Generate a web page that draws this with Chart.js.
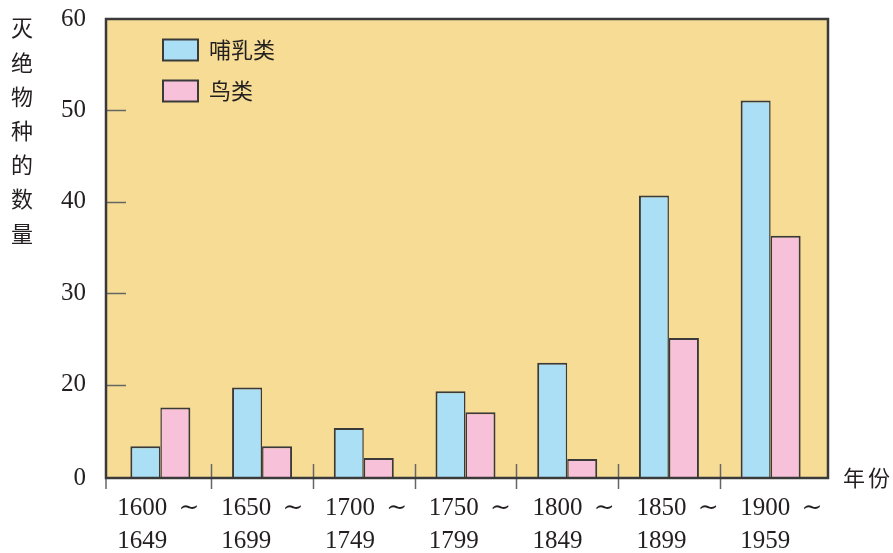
<!DOCTYPE html>
<html>
<head>
<meta charset="utf-8">
<script src="https://cdn.jsdelivr.net/npm/chart.js@4.4.1/dist/chart.umd.min.js"></script>
<style>
  html, body { margin: 0; padding: 0; background: #fff; }
</style>
</head>
<body>
<canvas id="chart" width="893" height="553"></canvas>
<script>
// data (values in the units printed on the y axis)
const periodStart = ['1600', '1650', '1700', '1750', '1800', '1850', '1900'];
const periodEnd = ['1649', '1699', '1749', '1799', '1849', '1899', '1959'];
const mammals = [6.8, 19.4, 10.7, 18.6, 22.4, 40.7, 51.1];
const birds = [15.1, 6.8, 4.3, 14.1, 4.1, 25.1, 36.3];
const yTicks = [0, 20, 30, 40, 50, 60];
const seriesNames = ['哺乳类', '鸟类'];
const yTitle = '灭绝物种的数量';
const xTitle = '年份';

const INK = '#231f20';
const SERIF = '"Liberation Serif", "DejaVu Serif", serif';
const CJK = '"Noto Sans CJK SC", "Noto Sans", sans-serif';
// the drawn frame sticks out a little past the category range
const FRAME_OUT_LEFT = 3.5, FRAME_OUT_RIGHT = 6.5;

// the printed axis squeezes 0..20 into the height of one 10-step band
const BREAK = 20, LOW_SPAN = 10.2;
const toAxis = v => v < BREAK ? BREAK - (BREAK - v) * LOW_SPAN / BREAK : v;
const fromAxis = a => a < BREAK ? BREAK - (BREAK - a) * BREAK / LOW_SPAN : a;

class BrokenLinearScale extends Chart.LinearScale {
  static id = 'brokenLinear';
  getPixelForValue(value) {
    const lo = toAxis(this.min), hi = toAxis(this.max);
    return this.getPixelForDecimal((toAxis(value) - lo) / (hi - lo));
  }
  getValueForPixel(pixel) {
    const lo = toAxis(this.min), hi = toAxis(this.max);
    return fromAxis(lo + this.getDecimalForPixel(pixel) * (hi - lo));
  }
}
Chart.register(BrokenLinearScale);

const frameOf = a => ({
  left: a.left - FRAME_OUT_LEFT,
  right: a.right + FRAME_OUT_RIGHT,
  top: a.top,
  bottom: a.bottom
});

const decor = {
  id: 'decor',
  beforeDraw(chart) {
    const {ctx} = chart;
    const f = frameOf(chart.chartArea);
    ctx.save();
    ctx.fillStyle = '#f6dc95';
    ctx.fillRect(f.left, f.top, f.right - f.left, f.bottom - f.top);
    ctx.restore();
  },
  afterLayout(chart) {
    // move the legend block into the upper-left of the plot
    const f = frameOf(chart.chartArea);
    chart.legend.left = f.left + 38;
    chart.legend.top = f.top + 1;
  },
  afterDatasetsDraw(chart) {
    const {ctx, scales: {x, y}} = chart;
    const f = frameOf(chart.chartArea);
    ctx.save();
    // small inner ticks on the y axis
    ctx.strokeStyle = '#666';
    ctx.lineWidth = 1.5;
    y.ticks.forEach(t => {
      if (t.value <= y.min || t.value >= y.max) return;
      const py = Math.round(y.getPixelForValue(t.value)) + 0.5;
      ctx.beginPath();
      ctx.moveTo(f.left, py);
      ctx.lineTo(f.left + 20, py);
      ctx.stroke();
    });
    // category separators crossing the baseline
    const step = x.getPixelForValue(1) - x.getPixelForValue(0);
    for (let i = 0; i < periodStart.length; i++) {
      const px = i === 0 ? f.left : Math.round(x.getPixelForValue(i) - step / 2) + 0.5;
      ctx.beginPath();
      ctx.moveTo(px, i === 0 ? f.bottom : f.bottom - 14);
      ctx.lineTo(px, f.bottom + 11);
      ctx.stroke();
    }
    // frame
    ctx.strokeStyle = '#3a3a3a';
    ctx.lineWidth = 2.5;
    ctx.strokeRect(f.left, f.top, f.right - f.left, f.bottom - f.top);
    ctx.restore();
  },
  afterDraw(chart) {
    const {ctx, scales: {x}} = chart;
    const f = frameOf(chart.chartArea);
    ctx.save();
    ctx.fillStyle = INK;
    // category labels, two lines, left aligned
    ctx.font = '25px ' + SERIF;
    ctx.textAlign = 'left';
    ctx.textBaseline = 'alphabetic';
    periodStart.forEach((s, i) => {
      const px = x.getPixelForValue(i) - 43 + i * 2.1;
      ctx.fillText(s + ' \u2009∼', px, f.bottom + 37);
      ctx.fillText(periodEnd[i], px, f.bottom + 70);
    });
    // vertical y title
    ctx.font = '22px ' + CJK;
    ctx.textAlign = 'center';
    ctx.textBaseline = 'middle';
    [...yTitle].forEach((ch, i) => ctx.fillText(ch, 22, 28 + i * 34.2));
    // x title
    ctx.textAlign = 'left';
    ctx.letterSpacing = '3px';
    ctx.fillText(xTitle, f.right + 15, f.bottom);
    ctx.restore();
  }
};

new Chart(document.getElementById('chart'), {
  type: 'bar',
  data: {
    labels: periodStart.map((s, i) => s + ' ~ ' + periodEnd[i]),
    datasets: [
      {
        label: seriesNames[0],
        data: mammals,
        backgroundColor: '#aadff6',
        borderColor: '#3a3a3a',
        borderWidth: {top: 2, left: 2, right: 1.5, bottom: 0},
        borderSkipped: false,
        categoryPercentage: 0.59,
        barPercentage: 1
      },
      {
        label: seriesNames[1],
        data: birds,
        backgroundColor: '#f6c1d9',
        borderColor: '#3a3a3a',
        borderWidth: {top: 2, left: 1.5, right: 2, bottom: 0},
        borderSkipped: false,
        categoryPercentage: 0.59,
        barPercentage: 1
      }
    ]
  },
  options: {
    responsive: false,
    animation: false,
    layout: { padding: { left: 0, right: 71.5, top: 19, bottom: 0 } },
    scales: {
      x: {
        type: 'category',
        offset: true,
        grid: { display: false, drawTicks: false },
        border: { display: false },
        ticks: { display: false },
        afterFit(s) { s.height = 75; s.paddingLeft = 0; s.paddingRight = 0; }
      },
      y: {
        type: 'brokenLinear',
        min: 0,
        max: 60,
        afterBuildTicks(s) { s.ticks = yTicks.map(v => ({ value: v })); },
        grid: { display: false, drawTicks: false },
        border: { display: false },
        ticks: {
          padding: 23.5,
          color: INK,
          font: { family: SERIF, size: 25 },
          callback: v => String(v)
        },
        afterFit(s) { s.width = 109.5; s.paddingTop = 0; s.paddingBottom = 0; }
      }
    },
    plugins: {
      legend: {
        position: 'chartArea',
        align: 'start',
        labels: {
          boxWidth: 35,
          boxHeight: 21,
          padding: 19,
          color: INK,
          font: { family: CJK, size: 22 },
          generateLabels: chart =>
            Chart.defaults.plugins.legend.labels.generateLabels(chart)
              .map(l => Object.assign(l, { lineWidth: 2 }))
        }
      },
      tooltip: { enabled: false }
    }
  },
  plugins: [decor]
});
</script>
</body>
</html>
